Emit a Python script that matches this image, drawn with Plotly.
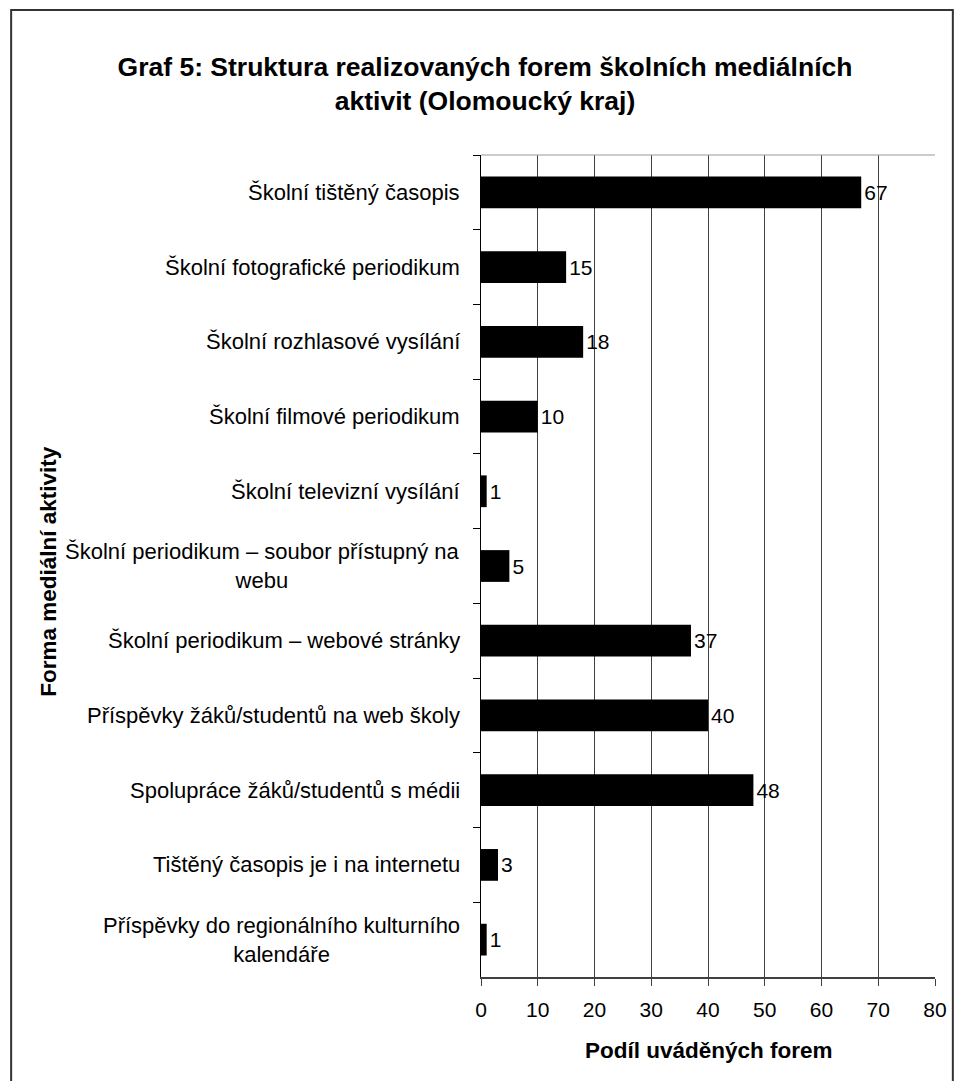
import plotly.graph_objects as go

categories = [
    "Školní tištěný časopis",
    "Školní fotografické periodikum",
    "Školní rozhlasové vysílání",
    "Školní filmové periodikum",
    "Školní televizní vysílání",
    "Školní periodikum – soubor přístupný na<br>webu",
    "Školní periodikum – webové stránky",
    "Příspěvky žáků/studentů na web školy",
    "Spolupráce žáků/studentů s médii",
    "Tištěný časopis je i na internetu",
    "Příspěvky do regionálního kulturního<br>kalendáře",
]
values = [67, 15, 18, 10, 1, 5, 37, 40, 48, 3, 1]
x_ticks = [0, 10, 20, 30, 40, 50, 60, 70, 80]

title_text = "Graf 5: Struktura realizovaných forem školních mediálních<br>aktivit (Olomoucký kraj)"
x_title = "Podíl uváděných forem"
y_title = "Forma mediální aktivity"

FONT = "Liberation Sans, Arial, sans-serif"
W, H = 959, 1081
L, R, T, B = 481, 20, 155, 104
PW = W - L - R
PH = H - T - B


def px_x(p):
    return (p - L) / PW


def px_y(p):
    return (H - B - p) / PH


fig = go.Figure()
fig.add_trace(go.Bar(
    x=values,
    y=categories,
    orientation="h",
    marker=dict(color="black", line=dict(width=0)),
    text=[str(v) for v in values],
    textposition="outside",
    textfont=dict(family=FONT, size=21, color="black"),
    cliponaxis=False,
    hoverinfo="skip",
))

annotations = []
for c in categories:
    annotations.append(dict(
        x=px_x(462), xref="paper", y=c, yref="y",
        text=c, showarrow=False, xanchor="right", yanchor="middle",
        align="center", font=dict(family=FONT, size=22, color="black"),
    ))
annotations.append(dict(
    x=px_x(44), xref="paper", y=px_y(571), yref="paper",
    text="<b>" + y_title + "</b>", textangle=-90, showarrow=False,
    xanchor="center", yanchor="middle",
    font=dict(family=FONT, size=22.5, color="black"),
))
annotations.append(dict(
    x=px_x(711), xref="paper", y=px_y(1050), yref="paper",
    text="<b>" + x_title + "</b>", showarrow=False,
    xanchor="center", yanchor="middle",
    font=dict(family=FONT, size=22.5, color="black"),
))

fig.update_layout(
    width=W, height=H,
    margin=dict(l=L, r=R, t=T, b=B, pad=0),
    paper_bgcolor="white", plot_bgcolor="white",
    showlegend=False,
    bargap=0.575,
    title=dict(
        text="<b>" + title_text + "</b>",
        x=485 / W, xref="container", xanchor="center",
        y=1 - 76 / H, yref="container", yanchor="middle",
        font=dict(family=FONT, size=26.5, color="black"),
    ),
    annotations=annotations,
    xaxis=dict(
        range=[0, 80], tickvals=x_ticks, ticktext=[str(t) for t in x_ticks],
        showgrid=True, gridcolor="#404040", gridwidth=1,
        zeroline=False,
        showline=True, linecolor="#404040", linewidth=1.5, mirror=False,
        ticks="outside", ticklen=7, tickcolor="#404040",
        ticklabelstandoff=6,
        tickfont=dict(family=FONT, size=21, color="black"),
        fixedrange=True,
    ),
    yaxis=dict(
        autorange="reversed",
        showticklabels=False,
        showgrid=False, zeroline=False,
        showline=True, linecolor="black", linewidth=1.5,
        ticks="outside", tickson="boundaries", ticklen=7, tickcolor="black",
        fixedrange=True,
    ),
    shapes=[
        # top frame of plot area
        dict(type="line", xref="paper", yref="paper", x0=0, x1=1, y0=1, y1=1,
             line=dict(color="#999999", width=1)),
        # outer chart border
        dict(type="rect", xref="paper", yref="paper",
             x0=px_x(7), x1=px_x(957), y0=px_y(10), y1=px_y(1095),
             line=dict(color="#333333", width=2), fillcolor="rgba(0,0,0,0)"),
    ],
)

fig.write_html(
    "out.html",
    config={"displayModeBar": False, "staticPlot": True},
    post_script="document.body.style.margin='0';document.body.style.overflow='hidden';",
)
